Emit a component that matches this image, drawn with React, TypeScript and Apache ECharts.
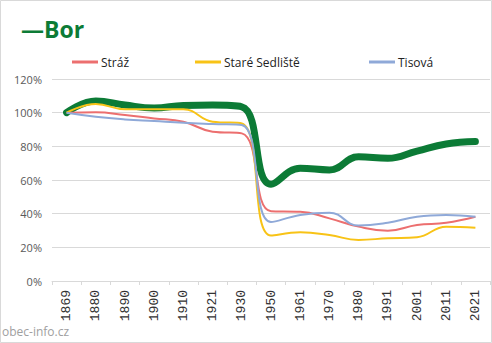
import React, { useEffect, useRef } from "react";
import * as echarts from "echarts";

const years = ["1869", "1880", "1890", "1900", "1910", "1921", "1930", "1950", "1961", "1970", "1980", "1991", "2001", "2011", "2021"];
const bor = [100, 107, 104.5, 102.8, 104.3, 104.5, 103.5, 57.5, 67, 66, 73.8, 72.9, 77.2, 81.4, 82.8];
const straz = [100, 100.2, 98.6, 96.6, 94.6, 88.7, 87.7, 41.5, 41.2, 37.2, 32.3, 29.9, 33.3, 34.6, 38.2];
const stareSedliste = [100, 105.1, 102, 102, 102, 94.6, 93.6, 27, 28.9, 27.3, 24.4, 25.4, 26, 32.3, 31.7];
const tisova = [100, 97.6, 96, 95, 94, 93.3, 92.7, 35, 39.2, 40.6, 32.9, 34.6, 38.2, 39.2, 38.2];
const yTicks = [0, 20, 40, 60, 80, 100, 120];

const GREEN = "#0c7b36";
const RED = "#ec6f6f";
const YELLOW = "#f8c316";
const BLUE = "#8fa9d8";

export default function App() {
  const ref = useRef<HTMLDivElement>(null);
  useEffect(() => {
    document.body.style.margin = "0";
    const chart = echarts.init(ref.current!, undefined, { renderer: "svg" });
    const legendText = { color: "#222", fontSize: 12, fontFamily: "Open Sans" };
    const mkLegend = (name: string, left: number) => ({
      data: [name],
      left,
      top: 51,
      icon: "rect",
      itemWidth: 26,
      itemHeight: 3,
      itemGap: 0,
      textStyle: { ...legendText, padding: [0, 0, 0, -2] },
      selectedMode: false,
    });
    chart.setOption({
      animation: false,
      title: {
        text: "—Bor",
        left: 16,
        top: 12,
        textStyle: { color: GREEN, fontSize: 23, fontWeight: "bold", fontFamily: "Open Sans" },
      },
      legend: [mkLegend("Stráž", 67), mkLegend("Staré Sedliště", 190), mkLegend("Tisová", 364)],
      grid: { left: 52, right: 2, top: 79, bottom: 62, containLabel: false },
      xAxis: {
        type: "category",
        data: years,
        boundaryGap: true,
        axisLine: { lineStyle: { color: "#d9d9d9" } },
        axisTick: { show: true, length: 4, lineStyle: { color: "#d9d9d9" } },
        axisLabel: { rotate: 90, color: "#333", fontSize: 13, fontFamily: "Liberation Mono", margin: 9 },
      },
      yAxis: {
        type: "value",
        min: yTicks[0],
        max: yTicks[yTicks.length - 1],
        interval: 20,
        axisLine: { show: false },
        axisTick: { show: false },
        splitLine: { lineStyle: { color: "#d9d9d9" } },
        axisLabel: { formatter: "{value}%", color: "#595959", fontSize: 11, fontFamily: "Open Sans", margin: 10 },
      },
      graphic: [
        {
          type: "rect",
          shape: { x: 0.5, y: 0.5, width: 491, height: 342 },
          style: { fill: "none", stroke: "#d9d9d9", lineWidth: 1 },
          silent: true,
        },
        {
          type: "text",
          left: 2,
          top: 325,
          style: { text: "obec-info.cz", fill: "#a0a0a0", fontSize: 12, fontFamily: "Open Sans" },
        },
      ],
      series: [
        { name: "Stráž", type: "line", data: straz, smooth: 0.45, symbol: "none", lineStyle: { color: RED, width: 2 }, itemStyle: { color: RED }, z: 3 },
        { name: "Staré Sedliště", type: "line", data: stareSedliste, smooth: 0.45, symbol: "none", lineStyle: { color: YELLOW, width: 2 }, itemStyle: { color: YELLOW }, z: 3 },
        { name: "Tisová", type: "line", data: tisova, smooth: 0.45, symbol: "none", lineStyle: { color: BLUE, width: 2 }, itemStyle: { color: BLUE }, z: 3 },
        { name: "Bor", type: "line", data: bor, smooth: 0.45, symbol: "none", lineStyle: { color: GREEN, width: 7, cap: "round" }, itemStyle: { color: GREEN }, z: 2 },
      ],
    });
    return () => chart.dispose();
  }, []);
  return <div ref={ref} style={{ width: 492, height: 343 }} />;
}
